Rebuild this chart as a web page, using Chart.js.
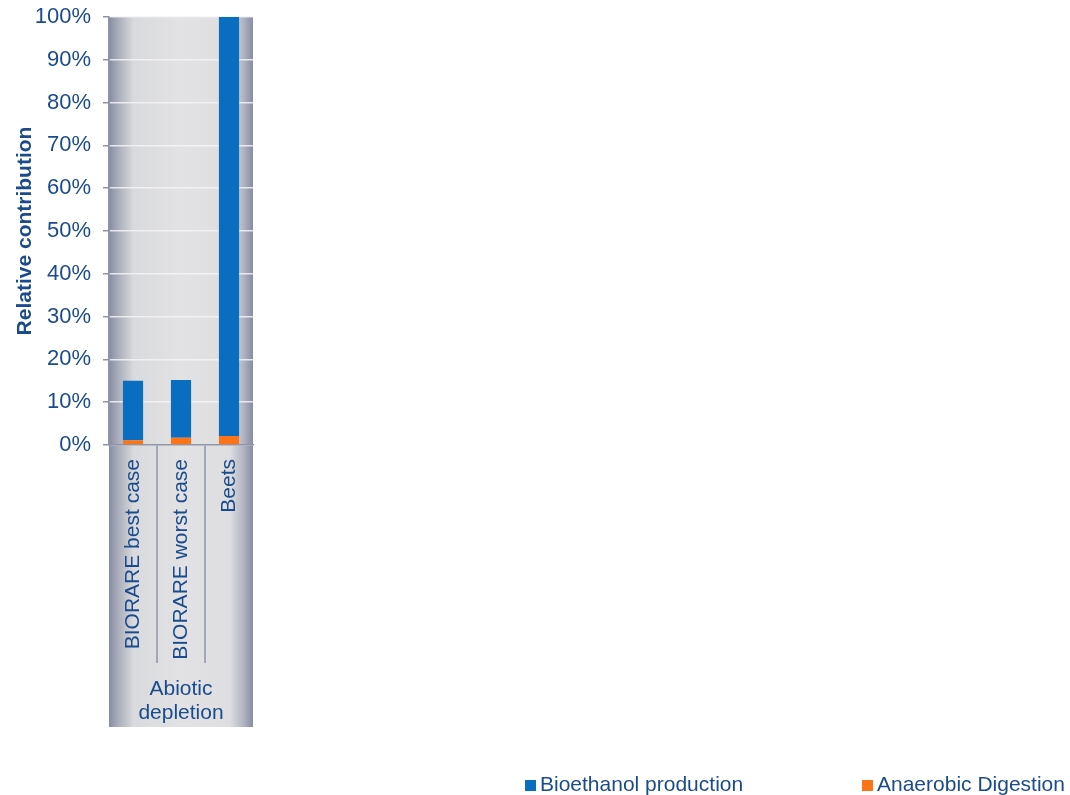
<!DOCTYPE html>
<html>
<head>
<meta charset="utf-8">
<script src="https://cdn.jsdelivr.net/npm/chart.js@4"></script>
<style>
  html, body { margin: 0; padding: 0; background: #ffffff; }
  canvas { display: block; }
</style>
</head>
<body>
<canvas id="chart" width="1070" height="795"></canvas>
<script>
const categories = ['BIORARE best case', 'BIORARE worst case', 'Beets'];
const groupLabel = ['Abiotic', 'depletion'];
const anaerobicDigestion = [1.1, 1.7, 2.1];
const bioethanolProduction = [13.9, 13.5, 97.9];
const yTicks = [0, 10, 20, 30, 40, 50, 60, 70, 80, 90, 100];

const textColor = '#1a4b8c';
const axisColor = '#8e95aa';
const fontFamily = '"Liberation Sans", Arial, sans-serif';

// gray "cylinder" behind the plot and the category labels
const backdrop = {
    id: 'backdrop',
    beforeDraw(chart) {
        const {ctx, chartArea, scales} = chart;
        const x = scales.x;
        const g = ctx.createLinearGradient(chartArea.left, 0, chartArea.right, 0);
        g.addColorStop(0, '#868ca2');
        g.addColorStop(0.06, '#a7abba');
        g.addColorStop(0.17, '#d9dadd');
        g.addColorStop(0.5, '#e2e2e4');
        g.addColorStop(0.84, '#dedee1');
        g.addColorStop(0.93, '#b3b6c2');
        g.addColorStop(1, '#868ca2');
        ctx.save();
        ctx.fillStyle = g;
        ctx.fillRect(chartArea.left, chartArea.top, chartArea.right - chartArea.left, x.bottom - chartArea.top);

        // separators between the category labels
        ctx.strokeStyle = axisColor;
        ctx.lineWidth = 1.5;
        for (let i = 0; i < categories.length - 1; i++) {
            const px = (x.getPixelForTick(i) + x.getPixelForTick(i + 1)) / 2;
            ctx.beginPath();
            ctx.moveTo(px, chartArea.bottom);
            ctx.lineTo(px, chartArea.bottom + 218);
            ctx.stroke();
        }
        ctx.restore();
    }
};

// legend along the bottom, spread out like the original
const wideLegend = {
    id: 'wideLegend',
    afterDraw(chart) {
        const {ctx} = chart;
        const items = [
            {ds: chart.data.datasets[1], x: 525},
            {ds: chart.data.datasets[0], x: 862}
        ];
        ctx.save();
        ctx.font = '21px ' + fontFamily;
        ctx.textBaseline = 'alphabetic';
        ctx.textAlign = 'left';
        items.forEach(item => {
            ctx.fillStyle = item.ds.backgroundColor;
            ctx.fillRect(item.x, 780, 11, 11);
            ctx.fillStyle = textColor;
            ctx.fillText(item.ds.label, item.x + 15, 791);
        });
        ctx.restore();
    }
};

new Chart(document.getElementById('chart'), {
    type: 'bar',
    data: {
        labels: categories,
        datasets: [
            {
                label: 'Anaerobic Digestion',
                data: anaerobicDigestion,
                backgroundColor: '#fb7418',
                barPercentage: 0.42,
                categoryPercentage: 1
            },
            {
                label: 'Bioethanol production',
                data: bioethanolProduction,
                backgroundColor: '#0a6ec0',
                barPercentage: 0.42,
                categoryPercentage: 1
            }
        ]
    },
    options: {
        responsive: false,
        animation: false,
        layout: {
            padding: {left: 0, right: 817, top: 17, bottom: 68}
        },
        plugins: {
            legend: {display: false},
            tooltip: {enabled: false}
        },
        scales: {
            x: {
                stacked: true,
                grid: {display: false, drawTicks: false},
                border: {display: true, color: axisColor, width: 1.5},
                ticks: {
                    color: textColor,
                    font: {family: fontFamily, size: 21},
                    minRotation: 90,
                    maxRotation: 90,
                    padding: 14,
                    autoSkip: false
                },
                title: {
                    display: true,
                    text: groupLabel,
                    color: textColor,
                    font: {family: fontFamily, size: 21, lineHeight: 1.15},
                    padding: {top: 0, bottom: 2}
                },
                afterFit: scale => {
                    scale.height = 282;
                    scale.paddingTop = 0;
                    scale.paddingBottom = 0;
                }
            },
            y: {
                stacked: true,
                min: 0,
                max: 100,
                afterBuildTicks: scale => {
                    scale.ticks = yTicks.map(v => ({value: v}));
                },
                grid: {
                    color: 'rgba(245,245,247,0.85)',
                    lineWidth: 1.5,
                    tickColor: axisColor,
                    tickLength: 6
                },
                border: {display: true, color: axisColor, width: 1.5},
                ticks: {
                    color: textColor,
                    font: {family: fontFamily, size: 22},
                    padding: 12,
                    callback: v => v + '%'
                },
                title: {
                    display: true,
                    text: 'Relative contribution',
                    color: textColor,
                    font: {family: fontFamily, size: 21, weight: 'bold', lineHeight: 1.2},
                    padding: {top: 13, bottom: 0}
                },
                afterFit: scale => {
                    scale.width = 109;
                    scale.paddingTop = 0;
                    scale.paddingBottom = 0;
                }
            }
        }
    },
    plugins: [backdrop, wideLegend]
});
</script>
</body>
</html>
